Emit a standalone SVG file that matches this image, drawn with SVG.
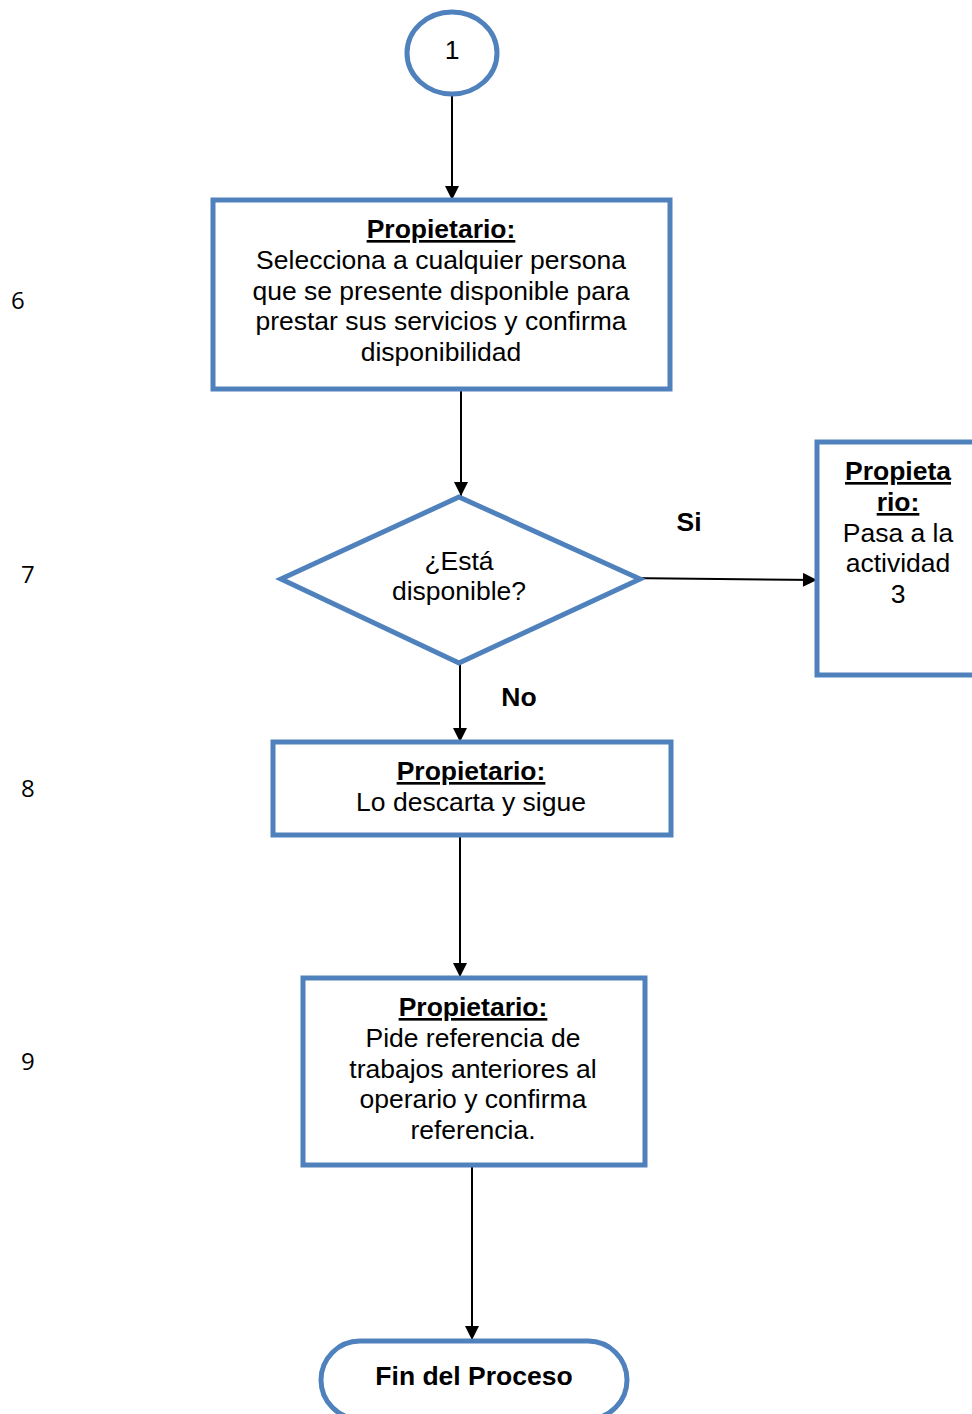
<svg xmlns="http://www.w3.org/2000/svg" width="972" height="1414" viewBox="0 0 972 1414">
<style>
.s{fill:#fff;stroke:#4F81BD;stroke-width:5}
.t{font-family:"Liberation Sans",Arial,sans-serif;font-size:26.5px;fill:#000;text-anchor:middle}
.b{font-weight:bold;text-decoration:underline}
.bb{font-weight:bold}
.n{font-family:"Open Sans","Liberation Sans",sans-serif;font-size:24px;fill:#000}
.c{stroke:#000;stroke-width:2;fill:none;marker-end:url(#ah)}
</style>
<defs>
<marker id="ah" viewBox="0 0 10 10" refX="10" refY="5" markerWidth="8" markerHeight="7" orient="auto" markerUnits="strokeWidth">
<path d="M0,0 L10,5 L0,10 z" fill="#000"/>
</marker>
</defs>
<g id="connectors">
<line class="c" x1="452" y1="95" x2="452" y2="200"/>
<line class="c" x1="461" y1="389" x2="461" y2="496"/>
<line class="c" x1="625" y1="578" x2="817" y2="580"/>
<line class="c" x1="460" y1="663" x2="460" y2="742"/>
<line class="c" x1="460" y1="835" x2="460" y2="977"/>
<line class="c" x1="472" y1="1165" x2="472" y2="1340"/>
</g>
<g id="start">
<ellipse class="s" cx="452" cy="53" rx="45" ry="41"/>
<text class="t" x="452" y="59">1</text>
</g>
<g id="box6">
<rect class="s" x="213" y="200" width="457" height="189"/>
<text class="t" x="441" y="238"><tspan class="b">Propietario:</tspan><tspan x="441" dy="31">Selecciona a cualquier persona</tspan><tspan x="441" dy="31">que se presente disponible para</tspan><tspan x="441" dy="30">prestar sus servicios y confirma</tspan><tspan x="441" dy="31">disponibilidad</tspan></text>
</g>
<g id="decision">
<polygon class="s" points="281,579 459,497 640,579 459,663"/>
<text class="t" x="459" y="570">¿Está<tspan x="459" dy="30">disponible?</tspan></text>
</g>
<g id="box3">
<rect class="s" x="817" y="442" width="160" height="233"/>
<text class="t" x="898" y="480"><tspan class="b">Propieta</tspan><tspan x="898" dy="31" class="b">rio:</tspan><tspan x="898" dy="31">Pasa a la</tspan><tspan x="898" dy="30">actividad</tspan><tspan x="898" dy="31">3</tspan></text>
</g>
<g id="box8">
<rect class="s" x="273" y="742" width="398" height="93"/>
<text class="t" x="471" y="780"><tspan class="b">Propietario:</tspan><tspan x="471" dy="31">Lo descarta y sigue</tspan></text>
</g>
<g id="box9">
<rect class="s" x="303" y="978" width="342" height="187"/>
<text class="t" x="473" y="1016"><tspan class="b">Propietario:</tspan><tspan x="473" dy="31">Pide referencia de</tspan><tspan x="473" dy="31">trabajos anteriores al</tspan><tspan x="473" dy="30">operario y confirma</tspan><tspan x="473" dy="31">referencia.</tspan></text>
</g>
<g id="end">
<rect class="s" x="321" y="1341" width="306" height="78" rx="39" ry="39"/>
<text class="t bb" x="474" y="1385">Fin del Proceso</text>
</g>
<g id="labels">
<text class="t bb" x="689" y="531">Si</text>
<text class="t bb" x="519" y="706">No</text>
<text class="n" x="11" y="309">6</text>
<text class="n" x="21" y="583">7</text>
<text class="n" x="21" y="797">8</text>
<text class="n" x="21" y="1070">9</text>
</g>
</svg>
